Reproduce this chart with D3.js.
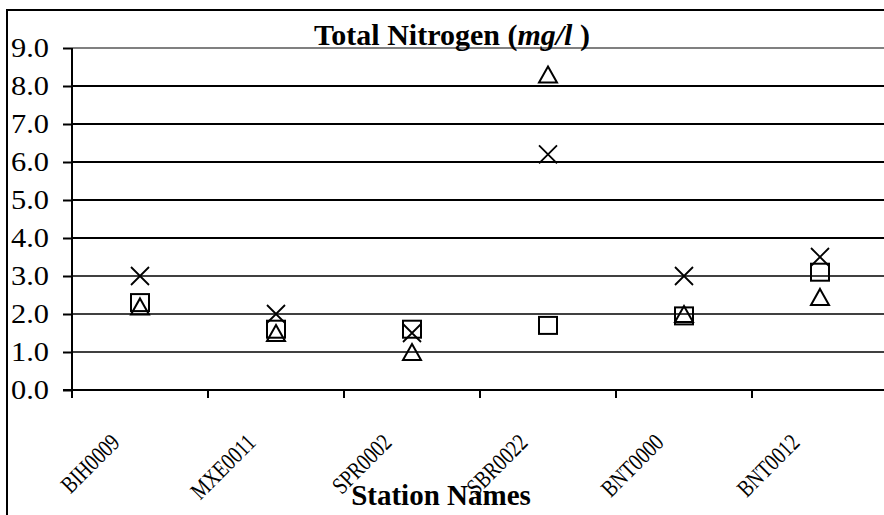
<!DOCTYPE html>
<html>
<head>
<meta charset="utf-8">
<script src="https://cdn.jsdelivr.net/npm/d3@7"></script>
<style>
  html, body { margin: 0; padding: 0; background: #fff; }
  svg { display: block; }
  text { font-family: "Liberation Serif", "Times New Roman", serif; fill: #000; }
</style>
</head>
<body>
<svg id="chart" width="884" height="515"></svg>
<script>
// ---- data ----
const categories = ["BIH0009", "MXE0011", "SPR0002", "SBR0022", "BNT0000", "BNT0012"];
const crossValues    = [3.0, 2.0, 1.5, 6.2, 3.0, 3.5];
const squareValues   = [2.3, 1.6, 1.6, 1.7, 1.95, 3.1];
const triangleValues = [2.2, 1.5, 1.0, 8.3, 2.0, 2.45];
const yTickValues = [0, 1, 2, 3, 4, 5, 6, 7, 8, 9];
const titleMain = "Total Nitrogen (";
const titleUnit = "mg/l";
const titleEnd = " )";
const xTitle = "Station Names";

// ---- layout ----
const SERIF = "'Liberation Serif', 'Times New Roman', serif";
const svg = d3.select("#chart");
const plot = { left: 72, right: 888, top: 48, bottom: 390 };

const x = d3.scaleBand().domain(categories).range([plot.left, plot.right]);
const y = d3.scaleLinear().domain([0, 9]).range([plot.bottom, plot.top]);

// outer border (left and top edges visible)
svg.append("path")
  .attr("d", `M7,515 L7,10 L884,10`)
  .attr("fill", "none").attr("stroke", "#000").attr("stroke-width", 2);

// gridlines
svg.append("g").selectAll("line")
  .data(yTickValues.filter(v => v > 0))
  .join("line")
  .attr("x1", plot.left).attr("x2", plot.right)
  .attr("y1", d => y(d)).attr("y2", d => y(d))
  .attr("stroke", d => d === 9 ? "#808080" : "#000")
  .attr("stroke-width", d => d >= 4 ? 2 : 1.3);

// y axis
const yAxis = d3.axisLeft(y).tickValues(yTickValues).tickSize(9).tickPadding(14)
  .tickFormat(d3.format(".1f"));
const gy = svg.append("g").attr("transform", `translate(${plot.left},0)`).call(yAxis);
gy.attr("font-family", null).attr("font-size", null);
gy.select(".domain").remove();
gy.selectAll(".tick line").attr("stroke", "#000").attr("stroke-width", 2);
gy.selectAll(".tick text")
  .style("font-family", SERIF)
  .style("font-size", "27px")
  .attr("fill", "#000")
  .attr("textLength", 38).attr("lengthAdjust", "spacingAndGlyphs");
svg.append("line")
  .attr("x1", plot.left).attr("x2", plot.left)
  .attr("y1", y(9)).attr("y2", y(0))
  .attr("stroke", "#000").attr("stroke-width", 2);

// x axis line
svg.append("line")
  .attr("x1", plot.left - 9).attr("x2", plot.right)
  .attr("y1", y(0)).attr("y2", y(0))
  .attr("stroke", "#000").attr("stroke-width", 2.2);

// x ticks at category boundaries
svg.append("g").selectAll("line")
  .data(categories)
  .join("line")
  .attr("x1", d => x(d)).attr("x2", d => x(d))
  .attr("y1", y(0)).attr("y2", y(0) + 8)
  .attr("stroke", "#000").attr("stroke-width", 2);

// x labels rotated, condensed
svg.append("g").selectAll("text")
  .data(categories)
  .join("text")
  .attr("transform", d => `translate(${x(d) + x.bandwidth() / 2 - 19},${y(0) + 54}) rotate(-45) scale(0.8,1)`)
  .attr("text-anchor", "end")
  .style("font-family", SERIF)
  .style("font-size", "24px")
  .text(d => d);

// title
const title = svg.append("text")
  .attr("x", 452).attr("y", 45)
  .attr("text-anchor", "middle")
  .style("font-family", SERIF)
  .style("font-size", "30px").style("font-weight", "bold");
title.append("tspan").text(titleMain);
title.append("tspan").style("font-style", "italic").text(titleUnit);
title.append("tspan").text(titleEnd);

// x axis title
svg.append("text")
  .attr("x", 441).attr("y", 505)
  .attr("text-anchor", "middle")
  .style("font-family", SERIF)
  .style("font-size", "29px").style("font-weight", "bold")
  .text(xTitle);

// ---- markers ----
const cx = i => x(categories[i]) + x.bandwidth() / 2;
const mk = svg.append("g").attr("fill", "none").attr("stroke", "#000").attr("stroke-width", 2);

// squares
mk.selectAll("rect.sq")
  .data(squareValues)
  .join("rect").attr("class", "sq")
  .attr("x", (d, i) => cx(i) - 9).attr("y", d => y(d) - 8.5)
  .attr("width", 18).attr("height", 17);

// crosses
mk.selectAll("path.cr")
  .data(crossValues)
  .join("path").attr("class", "cr")
  .attr("transform", (d, i) => `translate(${cx(i)},${y(d)})`)
  .attr("d", "M-9,-9L9,9M-9,9L9,-9")
  .attr("stroke-width", 1.8);

// triangles (bbox-centred)
mk.selectAll("path.tr")
  .data(triangleValues)
  .join("path").attr("class", "tr")
  .attr("transform", (d, i) => `translate(${cx(i)},${y(d)})`)
  .attr("d", "M0,-8L9,8L-9,8Z");
</script>
</body>
</html>
